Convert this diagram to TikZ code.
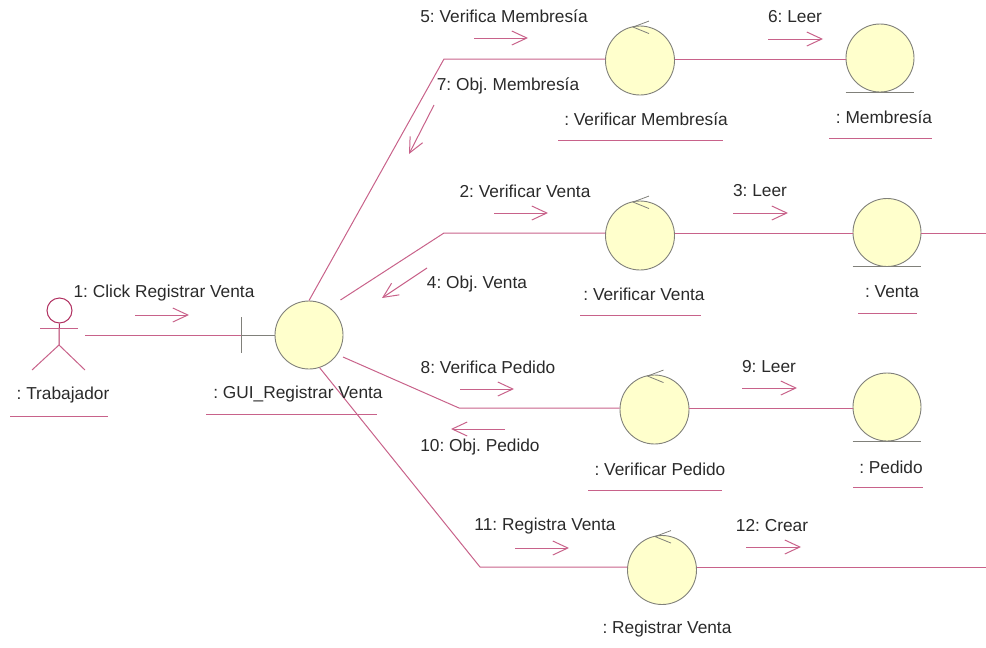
\documentclass[tikz,border=0pt]{standalone}
\usepackage{fontspec}
\setmainfont{Liberation Sans}
\usetikzlibrary{arrows.meta}

\definecolor{enlace}{HTML}{C8628A}
\definecolor{actorc}{HTML}{B03060}
\definecolor{bola}{HTML}{FFFFCC}
\definecolor{borde}{HTML}{80807A}
\definecolor{letra}{HTML}{2A2A2A}

\tikzset{
    obj/.style={circle, draw=borde, fill=bola, line width=0.9pt, minimum size=68pt, inner sep=0pt},
    ctl/.style={obj, minimum size=69pt},
    link/.style={draw=enlace, line width=1pt},
    msg/.style={draw=enlace, line width=1pt, -{Straight Barb[length=15pt,width=14pt,line width=1pt]}},
    etiq/.style={font=\fontsize{17.3}{20}\selectfont\frenchspacing, text=letra, inner sep=0pt},
    gris/.style={draw=borde, line width=1pt}
}

\begin{document}
\begin{tikzpicture}[x=1pt, y=-1pt]
        \useasboundingbox (0,0) rectangle (986,648);

        % Objetos
        \node (gui) [obj] at (309,335) {};
        \node (ctlMemb) [ctl] at (640,60.5) {};
        \node (entMemb) [obj] at (880,58) {};
        \node (ctlVenta) [ctl] at (640,235.5) {};
        \node (entVenta) [obj] at (887,232.5) {};
        \node (ctlPedido) [ctl] at (654.5,409.5) {};
        \node (entPedido) [obj] at (887,407) {};
        \node (ctlReg) [ctl] at (662,570) {};

        % Actor
        \node (cabeza) [circle, draw=actorc, line width=1pt, minimum size=25pt, inner sep=0pt] at (59.5,310.5) {};
        \coordinate (manoI) at (40,328);
        \coordinate (manoD) at (78,328);
        \coordinate (cadera) at (59,345);
        \coordinate (pieI) at (32,370);
        \coordinate (pieD) at (85,370);
        \draw [draw=actorc, line width=1pt] (cabeza) -- (cadera);
        \draw [link] (manoI) -- (manoD);
        \draw [link] (pieI) -- (cadera) -- (pieD);

        % Frontera
        \coordinate (barraA) at (241,317);
        \coordinate (barraB) at (241,353);
        \coordinate (barraM) at (241,335);
        \coordinate (trab) at (85,335);
        \draw [gris] (barraA) -- (barraB);
        \draw [gris] (barraM) -- (gui);
        \draw [link] (trab) -- (barraM);

        % Puntos de quiebre
        \coordinate (q1) at (444,59);
        \coordinate (q2) at (444,233);
        \coordinate (q3) at (459,408);
        \coordinate (q4) at (480,567);
        \coordinate (guiB) at (340.5,300);
        \coordinate (guiC) at (343,357);
        \coordinate (finVenta) at (986,233);
        \coordinate (finReg) at (986,567);

        % Enlaces
        \draw [link] (gui.90) -- (q1) -- (q1 -| ctlMemb.west);
        \draw [link] (q1 -| ctlMemb.east) -- (q1 -| entMemb.west);
        \draw [link] (guiB) -- (q2) -- (q2 -| ctlVenta.west);
        \draw [link] (q2 -| ctlVenta.east) -- (q2 -| entVenta.west);
        \draw [link] (q2 -| entVenta.east) -- (finVenta);
        \draw [link] (guiC) -- (q3) -- (q3 -| ctlPedido.west);
        \draw [link] (q3 -| ctlPedido.east) -- (q3 -| entPedido.west);
        \draw [link] (gui.-72) -- (q4) -- (q4 -| ctlReg.west);
        \draw [link] (q4 -| ctlReg.east) -- (finReg);

        % Flechita de los controles
        \foreach \n in {ctlMemb, ctlVenta, ctlPedido, ctlReg} {
            \draw [gris, line width=0.8pt] ([shift={(9,-4.5)}]\n.north) -- ([shift={(-7,1.5)}]\n.north) -- ([shift={(9,8)}]\n.north);
        }

        % Base de las entidades
        \foreach \n in {entMemb, entVenta, entPedido} {
            \draw [gris] (\n.west |- \n.south) -- (\n.east |- \n.south);
        }

        % Mensajes
        \foreach \xa/\ya/\xb/\yb [count=\i] in {135/315/189/315, 474/38/528/38, 434/105/409/154, 494/213/548/213, 427/268/382/298, 460/389/514/389, 505/429/451/429, 515/548/569/548, 768/39/823/39, 733/213/788/213, 742/388/797/388, 746/547/801/547} {
            \coordinate (msgA\i) at (\xa,\ya);
            \coordinate (msgB\i) at (\xb,\yb);
            \draw [msg] (msgA\i) -- (msgB\i);
        }

        % Textos de mensajes
        \node (t1) [etiq] at (164,293) {1: Click Registrar Venta};
        \node (t5) [etiq] at (504,16) {5: Verifica Membresía};
        \node (t7) [etiq] at (508,86) {7: Obj. Membresía};
        \node (t2) [etiq] at (525,191) {2: Verificar Venta};
        \node (t4) [etiq] at (477,284) {4: Obj. Venta};
        \node (t8) [etiq] at (488,367) {8: Verifica Pedido};
        \node (t10) [etiq] at (480,447) {10: Obj. Pedido};
        \node (t11) [etiq] at (545,526) {11: Registra Venta};
        \node (t6) [etiq] at (795,17) {6: Leer};
        \node (t3) [etiq] at (760,191) {3: Leer};
        \node (t9) [etiq] at (769,367) {9: Leer};
        \node (t12) [etiq] at (772,526) {12: Crear};

        % Nombres
        \node (nTrab) [etiq] at (63,395) {: Trabajador};
        \node (nGui) [etiq] at (298,394) {: GUI\_Registrar Venta};
        \node (nCtlMemb) [etiq] at (646,119) {: Verificar Membresía};
        \node (nEntMemb) [etiq] at (884,117) {: Membresía};
        \node (nCtlVenta) [etiq] at (644,294) {: Verificar Venta};
        \node (nEntVenta) [etiq] at (892,292) {: Venta};
        \node (nCtlPedido) [etiq] at (660,469) {: Verificar Pedido};
        \node (nEntPedido) [etiq] at (891,467) {: Pedido};
        \node (nCtlReg) [etiq] at (667,629) {: Registrar Venta};

        % Subrayados
        \foreach \xa/\xb/\y [count=\i] in {10/108/416, 206/377/414, 558/723/140, 829/932/138, 580/701/315, 858/917/313, 588/722/490, 853/923/487} {
            \coordinate (subA\i) at (\xa,\y);
            \coordinate (subB\i) at (\xb,\y);
            \draw [link] (subA\i) -- (subB\i);
        }
\end{tikzpicture}
\end{document}
